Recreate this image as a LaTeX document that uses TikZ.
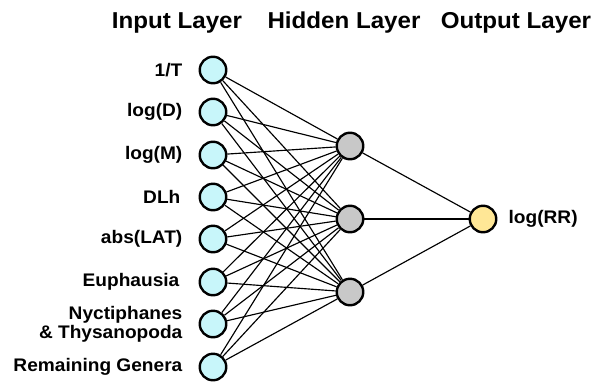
\documentclass[tikz,border=0pt]{standalone}
\usepackage{fontspec}
\setmainfont{Liberation Sans}[FakeStretch=1.05]
\begin{document}
\begin{tikzpicture}[x=1pt,y=-1pt,
  neuron/.style={circle,draw=black,line width=2.4pt,minimum size=26.5pt,inner sep=0pt},
  innode/.style={neuron,fill=inputfill},
  hidnode/.style={neuron,fill=hiddenfill},
  outnode/.style={neuron,fill=outputfill},
  lbl/.style={font=\fontsize{18.2}{19}\selectfont\bfseries,inner sep=0pt},
  title/.style={font=\fontsize{23}{26}\selectfont\bfseries,inner sep=0pt,anchor=base},
  link/.style={draw=black,line width=1.15pt}]
\definecolor{inputfill}{RGB}{200,246,250}
\definecolor{hiddenfill}{RGB}{200,200,200}
\definecolor{outputfill}{RGB}{255,231,150}
\useasboundingbox (0,0) rectangle (605,386);

% layer titles
\node[title] (tin)  at (177,28.5) {Input Layer};
\node[title] (thid) at (344,28.5) {Hidden Layer};
\node[title] (tout) at (516,28.5) {Output Layer};

% input layer
\foreach \i/\y in {1/70,2/112,3/155,4/197,5/239,6/282,7/324,8/367}
  \node[innode] (in\i) at (213,\y) {};

% hidden layer
\foreach \j/\y in {1/146,2/219,3/292}
  \node[hidnode] (h\j) at (350,\y) {};

% output layer
\node[outnode] (out) at (483,219) {};

% input labels
\node[lbl,anchor=east] (l1) at ([xshift=-16pt]in1.west) {1/T};
\node[lbl,anchor=east] (l2) at ([xshift=-16pt]in2.west) {log(D)};
\node[lbl,anchor=east] (l3) at ([xshift=-16pt]in3.west) {log(M)};
\node[lbl,anchor=east] (l4) at ([xshift=-18pt]in4.west) {DLh};
\node[lbl,anchor=east] (l5) at ([xshift=-16pt]in5.west) {abs(LAT)};
\node[lbl,anchor=east] (l6) at ([xshift=-19pt]in6.west) {Euphausia};
\node[lbl,anchor=east,align=right] (l7) at ([xshift=-16pt]in7.west) {Nyctiphanes\\\& Thysanopoda};
\node[lbl,anchor=east] (l8) at ([xshift=-16pt]in8.west) {Remaining Genera};

% output label
\node[lbl,anchor=west] (lout) at ([xshift=11pt]out.east) {log(RR)};

% connections
\foreach \i in {1,...,8}
  \foreach \j in {1,2,3}
    \draw[link] (in\i) -- (h\j);
\foreach \j in {1,2,3}
  \draw[link] (h\j) -- (out);
\end{tikzpicture}
\end{document}
